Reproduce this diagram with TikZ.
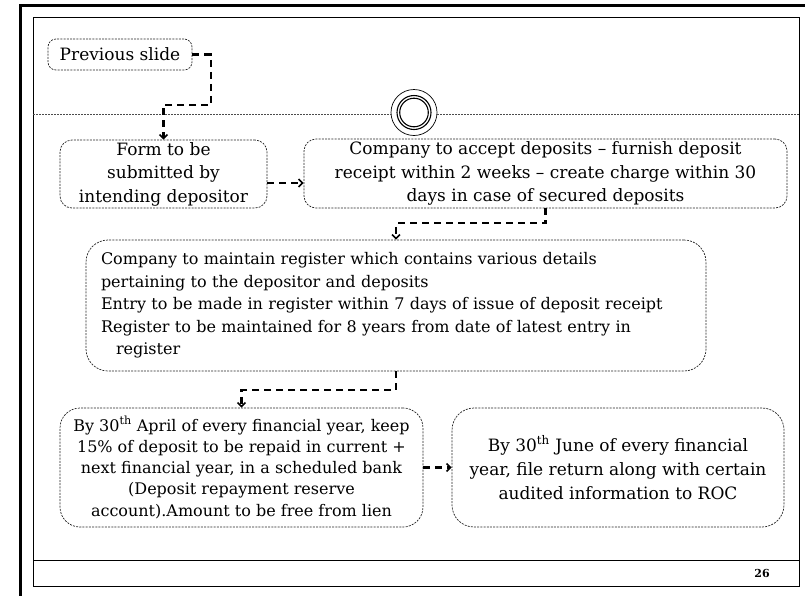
\documentclass[tikz,border=0pt]{standalone}
\usepackage{fontspec}
\setmainfont{DejaVu Serif}
\usetikzlibrary{arrows.meta}
\newcommand{\fsz}[2]{\fontsize{#1}{#2}\selectfont}
\begin{document}
\begin{tikzpicture}[x=1pt,y=-1pt,
  box/.style={draw=black!85, line width=0.7pt, dash pattern=on 2pt off 1.2pt,
              rounded corners=#1, inner sep=0pt, align=center},
  box/.default=12pt,
  conn/.style={line width=2.2pt, dash pattern=on 7pt off 5pt,
               -{Straight Barb[length=4pt,width=8pt,line width=1.6pt]}},
  sepline/.style={draw=black!70, line width=0.7pt, dash pattern=on 2pt off 1pt}]
\useasboundingbox (0,0) rectangle (805,595);
\clip (0,0) rectangle (805,595);
\fill[white] (0,0) rectangle (805,595);
% frames
\draw[line width=3pt] (20,600) -- (20,5) -- (810,5);
\draw[line width=0.9pt] (33,17) rectangle (799,586);
\draw[line width=0.9pt] (33,560) -- (799,560);
\node[font=\fsz{11}{13}\bfseries] (pn) at (762,573) {26};
% separator with ring
\node[circle, draw, line width=0.7pt, minimum size=46pt, inner sep=0pt] (ring) at (414,112.5) {};
\draw[line width=1.1pt] (ring.center) circle (17pt);
\draw[line width=1.1pt] (ring.center) circle (14.3pt);
\coordinate (sepL) at (33,114);
\coordinate (sepR) at (799,114);
\draw[sepline] (sepL) -- (sepL -| ring.west);
\draw[sepline] (sepR -| ring.east) -- (sepR);
% boxes
\node[box=8pt, minimum width=144pt, minimum height=31pt, font=\fsz{17}{23.5}] (prev) at (120,54.5) {Previous slide};
\node[box=12pt, minimum width=207pt, minimum height=68pt, font=\fsz{17}{23.5}] (form) at (163.5,174)
  {Form to be\\submitted by\\intending depositor};
\node[box=12pt, minimum width=483pt, minimum height=69pt, font=\fsz{17}{23.5}] (comp) at (545.5,173.5)
  {Company to accept deposits -- furnish deposit\\receipt within 2 weeks -- create charge within 30\\days in case of secured deposits};
\node[box=22pt, minimum width=620pt, minimum height=131pt, text width=590pt, inner xsep=15pt, align=left, font=\fsz{16}{22.5}] (reg) at (396,305.5)
  {Company to maintain register which contains various details\\pertaining to the depositor and deposits\\Entry to be made in register within 7 days of issue of deposit receipt\\Register to be maintained for 8 years from date of latest entry in\\\hspace*{15pt}register};
\node[box=20pt, minimum width=363pt, minimum height=119pt, font=\fsz{16}{21.3}] (bl) at (241.5,467.5)
  {By 30\textsuperscript{th} April of every financial year, keep\\15\% of deposit to be repaid in current +\\next financial year, in a scheduled bank\\(Deposit repayment reserve\\account).Amount to be free from lien};
\node[box=22pt, minimum width=332pt, minimum height=119pt, font=\fsz{17}{24}] (br) at (618,467.5)
  {By 30\textsuperscript{th} June of every financial\\year, file return along with certain\\audited information to ROC};
% connectors
\coordinate (b1) at (211,105);
\draw[conn] (prev.east) -| (b1) -| (form.north);
\draw[conn] ([yshift=-9pt]form.east) -- ([yshift=-9pt]form.east -| comp.west);
\draw[conn] (comp.south) -- ++(0,15) -| (reg.north);
\draw[conn] (reg.south) -- ++(0,19) -| (bl.north);
\draw[conn] (bl.east) -- (br.west);
\end{tikzpicture}
\end{document}
